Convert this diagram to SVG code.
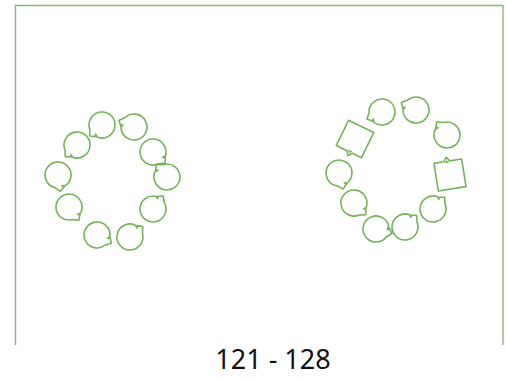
<svg xmlns="http://www.w3.org/2000/svg" width="506" height="381" viewBox="0 0 506 381">
<style>
.ln{fill:none;stroke:#74b35a;stroke-width:1.6;stroke-linejoin:round}
.ah{fill:#74b35a;stroke:none}
.frame{fill:none;stroke:#86b873;stroke-width:1.4}
.lbl{font-family:"Noto Sans","Open Sans","Liberation Sans",sans-serif;font-size:27px;fill:#111;text-anchor:middle}
</style>
<defs>
<g id="loop">
<path class="ln" d="M12.05,-4.87 A13,13 0 1 0 12.05,4.87 L16.5,0 Z"/>
<path class="ah" d="M13.6,-3.2 L10.6,-5.4 L10.2,-1.4 Z"/>
</g>
<g id="sq">
<path class="ln" d="M-14,-14 L-4,-14 L-1,-18 L2,-14 L14,-14 L14,14 L-14,14 Z"/>
<path class="ah" d="M-1,-15.2 L-3.5,-12.5 L1.5,-12.5 Z"/>
</g>
</defs>
<path class="frame" d="M15.5,345 V5.5 H503 V345"/>
<g id="left-ring">
<g id="l1"><use href="#loop" transform="translate(102,125) rotate(138)"/></g>
<g id="l2"><use href="#loop" transform="translate(134,127) rotate(204)"/></g>
<g id="l3"><use href="#loop" transform="translate(153,152) rotate(42)"/></g>
<g id="l4"><use href="#loop" transform="translate(167,177) rotate(230)"/></g>
<g id="l5"><use href="#loop" transform="translate(153,209) rotate(-52)"/></g>
<g id="l6"><use href="#loop" transform="translate(130,237) rotate(-39)"/></g>
<g id="l7"><use href="#loop" transform="translate(97,235) rotate(30)"/></g>
<g id="l8"><use href="#loop" transform="translate(69,207) rotate(53)"/></g>
<g id="l9"><use href="#loop" transform="translate(58,175) rotate(82)"/></g>
<g id="l10"><use href="#loop" transform="translate(77,145) rotate(135)"/></g>
</g>
<g id="right-ring">
<g id="r1"><use href="#loop" transform="translate(382,112) rotate(155)"/></g>
<g id="r2"><use href="#loop" transform="translate(416,110) rotate(207)"/></g>
<g id="r3"><use href="#loop" transform="translate(447,135) rotate(232)"/></g>
<g id="r4"><use href="#sq" transform="translate(450,175) rotate(-9)"/></g>
<g id="r5"><use href="#loop" transform="translate(433,209) rotate(-45)"/></g>
<g id="r6"><use href="#loop" transform="translate(405,227) rotate(-45)"/></g>
<g id="r7"><use href="#loop" transform="translate(376,229) rotate(16)"/></g>
<g id="r8"><use href="#loop" transform="translate(354,203) rotate(45)"/></g>
<g id="r9"><use href="#loop" transform="translate(339,173) rotate(75)"/></g>
<g id="r10"><use href="#sq" transform="translate(355,139) rotate(206)"/></g>
</g>
<text class="lbl" x="273" y="369">121 - 128</text>
</svg>
